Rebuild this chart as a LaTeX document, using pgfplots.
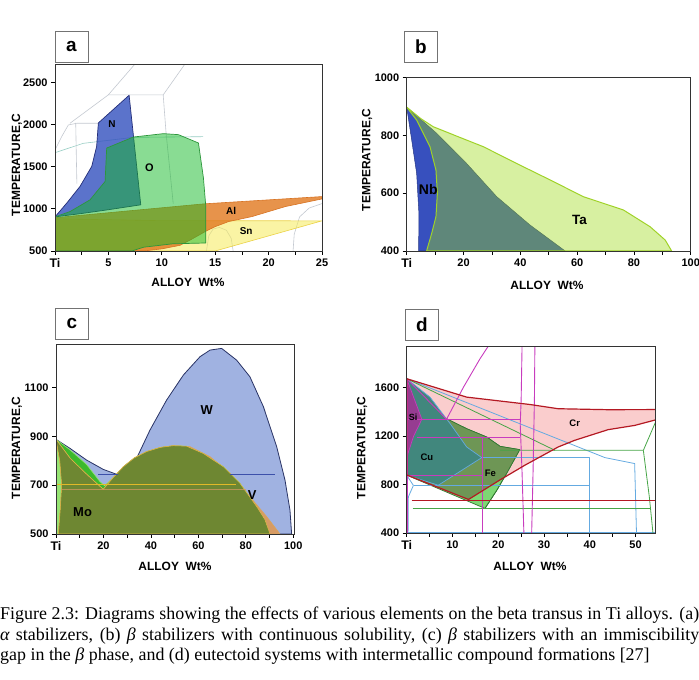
\documentclass[border=0pt]{standalone}
\usepackage{pgfplots}
\pgfplotsset{compat=1.18}
\usepackage{fontspec}
\setmainfont{Liberation Sans}
\newfontfamily\capfont{Liberation Serif}

% region colours
\definecolor{nblue}{RGB}{50,80,190}
\definecolor{nedge}{RGB}{35,45,120}
\definecolor{ogreen}{RGB}{20,185,40}
\definecolor{oedge}{RGB}{45,150,60}
\definecolor{alorange}{RGB}{225,120,30}
\definecolor{aledge}{RGB}{215,115,35}
\definecolor{snyellow}{RGB}{245,235,90}
\definecolor{snedge}{RGB}{235,210,70}
\definecolor{faint}{RGB}{195,200,208}
\definecolor{fainteal}{RGB}{150,205,195}
\definecolor{nbblue}{RGB}{55,80,190}
\definecolor{tafill}{RGB}{155,218,20}
\definecolor{taedge}{RGB}{160,210,40}
\definecolor{wfill}{RGB}{160,178,225}
\definecolor{wedge}{RGB}{40,50,100}
\definecolor{mofill}{RGB}{60,185,45}
\definecolor{mosliver}{RGB}{150,228,115}
\definecolor{vfill}{RGB}{215,155,100}
\definecolor{olive}{RGB}{110,135,50}
\definecolor{hyellow}{RGB}{225,185,40}
\definecolor{hblue}{RGB}{60,80,170}
\definecolor{crpink}{RGB}{250,205,205}
\definecolor{crred}{RGB}{180,25,35}
\definecolor{felight}{RGB}{125,215,115}
\definecolor{feolive}{RGB}{110,150,85}
\definecolor{feedge}{RGB}{50,120,50}
\definecolor{cuteal}{RGB}{65,135,125}
\definecolor{siviolet}{RGB}{150,60,145}
\definecolor{mag}{RGB}{200,60,190}
\definecolor{lblue}{RGB}{100,170,225}
\definecolor{lgreen}{RGB}{70,165,70}

\pgfplotsset{
  panel/.style={
    scale only axis, anchor=south west, axis on top,
    tick align=outside, xtick pos=bottom, ytick pos=left,
    major tick length=4bp,
    tick style={black, line width=0.8pt},
    axis line style={black!80, line width=0.9pt},
    ticklabel style={font=\bfseries\fontsize{11}{11}\selectfont},
    every axis plot/.append style={line join=round},
  },
}
\newcommand{\Ti}{{\fontsize{12.5}{12.5}\selectfont Ti}}

\begin{document}
\begin{tikzpicture}[x=1bp,y=1bp]
\path[use as bounding box] (0,0) rectangle (699,680);

% ---------------- (a) alpha stabilizers ----------------
\begin{axis}[panel, at={(55bp,429bp)}, width=267bp, height=187bp,
  xmin=0, xmax=25, ymin=500, ymax=2720,
  xtick={0,2.5,...,25}, xticklabels={\Ti,,5,,10,,15,,20,,25},
  ytick={500,1000,1500,2000,2500}, yticklabels={500,1000,1500,2000,2500}]
% background phase boundaries
\addplot[fainteal, line width=0.6pt] coordinates {(0,1667)(2.65,1778)(7.33,1849)(13.87,1857)};
\addplot[faint, line width=0.6pt] coordinates {(0,1698)(0.62,1857)(1.25,1996)(2.03,2016)(4.11,2016)};
\addplot[faint, line width=0.6pt] coordinates {(1.4,2016)(4.99,2353)(7.48,2718)};
\addplot[faint, line width=0.6pt] coordinates {(4.99,2353)(10.13,2353)(12.16,2718)};
\addplot[faint, line width=0.6pt] coordinates {(10.13,2353)(10.4,1900)(11.07,1063)};
\addplot[faint, line width=0.6pt] coordinates {(1.94,2020)(2.0,1600)(2.05,1300)};
\addplot[faint, line width=0.6pt] coordinates {(14.18,500)(14.4,680)(14.8,760)(15.4,780)(16.05,746)(16.5,650)(16.68,500)};
\addplot[faint, line width=0.6pt] coordinates {(22.29,500)(22.4,700)(22.9,905)(23.8,1010)(25,1063)};
% Sn
\addplot[draw=snedge, line width=0.6pt, fill=snyellow, fill opacity=0.55]
  coordinates {(0,500)(0,882)(10,860)(25,858)(15,500)} -- cycle;
% Al
\addplot[draw=aledge, line width=0.6pt, fill=alorange, fill opacity=0.8]
  coordinates {(0,500)(0,895)(14,1060)(25,1146)(25,1118)(21.56,1027)(18.43,908)(16.25,849)(15,789)(14.2,740)(12.8,640)(11.7,567)(10,525)(8.3,500)} -- cycle;
% N
\addplot[draw=nedge, line width=0.7pt, fill=nblue, fill opacity=0.8]
  coordinates {(0,905)(1.09,1067)(2.34,1266)(3.44,1504)(3.9,1742)(4.06,2020)(6.94,2349)(8.03,1048)(5,990)(2.5,945)} -- cycle;
% O
\addplot[draw=oedge, line width=0.7pt, fill=ogreen, fill opacity=0.5]
  coordinates {(4.84,1722)(7.34,1853)(10.16,1893)(11.56,1881)(13.43,1782)(13.9,1365)(14.12,1027)(14.12,595)(11,585)(8.3,545)(7.2,500)(0,500)(0,905)(1.41,968)(3.28,1107)(4.69,1325)} -- cycle;
\node[font=\bfseries\fontsize{10}{10}\selectfont] at (axis cs:5.34,2009) {N};
\node[font=\bfseries\fontsize{11}{11}\selectfont] at (axis cs:8.83,1494) {O};
\node[font=\bfseries\fontsize{10}{10}\selectfont] at (axis cs:16.5,979) {Al};
\node[font=\bfseries\fontsize{10}{10}\selectfont] at (axis cs:17.9,738) {Sn};
\end{axis}

% ---------------- (b) continuous solubility ----------------
\begin{axis}[panel, at={(406.7bp,429bp)}, width=284bp, height=173.3bp,
  xmin=0, xmax=100, ymin=400, ymax=1000,
  xtick={0,10,...,100}, xticklabels={\Ti,,20,,40,,60,,80,,100},
  ytick={400,600,800,1000}, yticklabels={400,600,800,1000}]
% Nb
\addplot[draw=nbblue!70!black, line width=0.5pt, fill=nbblue]
  coordinates {(0,898)(1.76,784)(3.5,669)(4.3,530)(4.2,400)(55.8,400)(43.4,490)(31.7,588)(21.1,703)(10.6,807)} -- cycle;
% Ta
\addplot[draw=taedge, line width=1pt, fill=tafill, fill opacity=0.4]
  coordinates {(0,898)(5,858)(9.4,830)(18.8,793)(27,761)(38.7,703)(50.5,646)(62.2,588)(76.3,542)(85.7,484)(91,438)(93.3,400)(7,400)(8.8,461)(10.3,519)(10.8,600)(10.3,680)(8.2,761)(3.5,853)} -- cycle;
\node[font=\bfseries\fontsize{14}{14}\selectfont] at (axis cs:7.6,614) {Nb};
\node[font=\bfseries\fontsize{13.5}{13.5}\selectfont] at (axis cs:60.8,507) {Ta};
\end{axis}

% ---------------- (c) immiscibility gap ----------------
\begin{axis}[panel, at={(56bp,146bp)}, width=238bp, height=190bp,
  xmin=0, xmax=100.3, ymin=500, ymax=1279,
  xtick={0,10,...,100}, xticklabels={\Ti,,20,,40,,60,,80,,100},
  ytick={500,700,900,1100}, yticklabels={500,700,900,1100}]
% W
\addplot[draw=wedge, line width=0.8pt, fill=wfill]
  coordinates {(0,500)(0,888)(5.9,851)(12.9,803)(19.9,765)(26.3,742)(28.5,745)(34.3,817)(39.6,926)(46.6,1049)(53.7,1152)(60.7,1227)(64.9,1254)(69.8,1261)(76.1,1213)(81.7,1145)(87.4,1022)(93,858)(96.5,721)(98.6,598)(99.3,500)} -- cycle;
% Mo
\addplot[draw=mosliver, line width=0.6pt, fill=mofill]
  coordinates {(0,500)(0,888)(5.9,845)(12.9,785)(18.5,715)(20.5,698)(24,730)(28.4,776)(33,812)(38.2,838)(44,855)(49.4,862)(55,860)(62.1,830)(70.5,776)(77.5,708)(84.6,612)(88,560)(90.2,500)} -- cycle;
\addplot[draw=none, fill=mosliver]
  coordinates {(0,500)(0,888)(1.6,800)(2.4,700)(1.8,600)(1,500)} -- cycle;
% V
\addplot[draw=vfill!90!yellow, line width=0.6pt, fill=vfill]
  coordinates {(1,500)(1.8,600)(2.4,700)(1.6,800)(0,888)(6,810)(12.9,745)(19.9,683)(24,730)(28.4,776)(33,812)(38.2,838)(44,855)(49.4,862)(56.5,858)(64.9,817)(73.3,749)(81.7,653)(88.8,571)(94.4,500)} -- cycle;
% Mo + V
\addplot[draw=vfill!70!yellow, line width=0.5pt, fill=olive]
  coordinates {(1,500)(1.8,600)(2.4,700)(1.6,800)(0,888)(6,810)(12.9,745)(19.9,683)(24,730)(28.4,776)(33,812)(38.2,838)(44,855)(49.4,862)(55,860)(62.1,830)(70.5,776)(77.5,708)(84.6,612)(88,560)(90.2,500)} -- cycle;
\addplot[hyellow, line width=0.8pt] coordinates {(0,703)(76,703)};
\addplot[vfill, line width=0.5pt, opacity=0.7] coordinates {(2,683)(80,683)};
\addplot[hblue, line width=0.8pt] coordinates {(17.8,745)(26.3,745)};
\addplot[hblue, line width=0.8pt] coordinates {(73.3,745)(92.3,745)};
\node[font=\bfseries\fontsize{13}{13}\selectfont] at (axis cs:63.5,1008) {W};
\node[font=\bfseries\fontsize{13}{13}\selectfont] at (axis cs:82.7,660) {V};
\node[font=\bfseries\fontsize{13}{13}\selectfont] at (axis cs:11.2,589) {Mo};
\end{axis}

% ---------------- (d) eutectoid systems ----------------
\begin{axis}[panel, at={(406.7bp,147bp)}, width=249bp, height=186.7bp,
  xmin=0, xmax=54.4, ymin=400, ymax=1943,
  xtick={0,5,...,50}, xticklabels={\Ti,,10,,20,,30,,40,,50},
  ytick={400,800,1200,1600}, yticklabels={400,800,1200,1600}]
% Cr
\addplot[draw=none, fill=crpink]
  coordinates {(0,1675)(13.1,1523)(26.9,1462)(33.1,1427)(44,1419)(54.4,1420)(54.4,1335)(49.8,1289)(44,1254)(36.7,1166)(33.1,1111)(25.8,960)(20,830)(13.5,677)(0,880)} -- cycle;
% Fe
\addplot[draw=feedge, line width=0.7pt, fill=felight]
  coordinates {(0,1675)(4.4,1468)(8.7,1344)(13.1,1262)(17.5,1193)(20.4,1116)(24.7,1089)(21.8,891)(19.7,754)(17.1,603)(0,878)} -- cycle;
\addplot[draw=none, fill=feolive]
  coordinates {(0,1675)(4.4,1468)(8.7,1344)(13.1,1262)(17.5,1193)(20.4,1116)(24.7,1089)(21.8,891)(21.26,856)(13.5,677)(0,880)} -- cycle;
\addplot[feedge, line width=0.7pt] coordinates {(0,1675)(4.4,1468)(8.7,1344)(13.1,1262)(17.5,1193)(20.4,1116)(24.7,1089)(21.8,891)(19.7,754)(17.1,603)};
% Cu
\addplot[draw=lblue, line width=0.7pt, fill=cuteal]
  coordinates {(0,1675)(5.1,1523)(9.5,1303)(13.1,1111)(16.4,1023)(6.9,795)(0,878)} -- cycle;
% Si
\addplot[draw=mag, line width=0.7pt, fill=siviolet]
  coordinates {(0,1675)(3.3,1340)(1.5,1200)(0.3,1060)(0,1000)} -- cycle;
% Cu system lines
\addplot[lblue, line width=0.8pt] coordinates {(0,1675)(43.3,1023)(49.8,974)(50.2,400)};
\addplot[lblue, line width=0.8pt] coordinates {(16.4,1023)(40,1023)(40,400)};
\addplot[lblue, line width=0.8pt] coordinates {(1.5,793)(40,793)};
\addplot[lblue, line width=0.8pt] coordinates {(0,878)(1.46,793)(0.36,699)(0.3,400)};
\addplot[lblue, line width=0.8pt] coordinates {(0,402)(54.4,402)};
% Fe system lines
\addplot[lgreen, line width=0.8pt] coordinates {(0,1675)(32.4,1083)};
\addplot[lgreen, line width=0.8pt] coordinates {(20.4,1083)(51.7,1083)(54.4,1320)};
\addplot[lgreen, line width=0.8pt] coordinates {(51.7,1083)(53,700)(53.8,400)};
\addplot[lgreen, line width=0.8pt] coordinates {(1.3,600)(53.1,600)};
% Si system lines
\addplot[mag, line width=0.9pt] coordinates {(0,1675)(8.7,1340)(12.4,1605)(16,1839)(17.8,1943)};
\addplot[mag, line width=0.9pt] coordinates {(0,1340)(24.8,1340)};
\addplot[mag, line width=0.9pt] coordinates {(2.2,1190)(24.8,1190)};
\addplot[mag, line width=0.9pt] coordinates {(0,878)(16.5,878)};
\addplot[mag, line width=0.9pt] coordinates {(16.5,1190)(16.5,400)};
\addplot[mag, line width=0.9pt] coordinates {(25.6,400)(25.2,900)(24.8,1300)(25.0,1500)(25.2,1943)(28.0,1943)(27.9,1500)(27.6,900)(27.3,400)};
\addplot[mag, line width=0.9pt] coordinates {(0.2,1675)(0.2,400)};
% Cr boundaries
\addplot[crred, line width=0.8pt] coordinates {(1.1,672)(54.4,672)};
\addplot[crred, line width=1.2pt] coordinates {(0,1675)(13.1,1523)(26.9,1462)(33.1,1427)(44,1419)(54.4,1420)(54.4,1335)(49.8,1289)(44,1254)(36.7,1166)(33.1,1111)(25.8,960)(20,830)(13.5,677)(0,880)(0,1675)};
\node[font=\bfseries\fontsize{9}{9}\selectfont] at (axis cs:1.4,1355) {Si};
\node[font=\bfseries\fontsize{9.5}{9.5}\selectfont] at (axis cs:4.4,1028) {Cu};
\node[font=\bfseries\fontsize{9.5}{9.5}\selectfont] at (axis cs:18.3,897) {Fe};
\node[font=\bfseries\fontsize{9.5}{9.5}\selectfont] at (axis cs:36.7,1308) {Cr};
\end{axis}

% panel letters
\tikzset{plabel/.style={draw=black!55, line width=0.8pt, fill=white, minimum width=33bp, minimum height=31bp, inner sep=0pt, font=\bfseries\fontsize{19}{19}\selectfont}}
\node[plabel] at (71.5,633.5) {a};
\node[plabel] at (421,633) {b};
\node[plabel] at (72,356.5) {c};
\node[plabel] at (422,355.5) {d};

% axis titles
\tikzset{atitle/.style={font=\bfseries\fontsize{12}{12}\selectfont, inner sep=0pt}}
\node[atitle, rotate=90] at (17,515) {TEMPERATURE,C};
\node[atitle] at (188,398) {ALLOY\ \ Wt\%};
\node[atitle, rotate=90] at (367,520) {TEMPERATURE,C};
\node[atitle] at (547,395) {ALLOY\ \ Wt\%};
\node[atitle, rotate=90] at (17,232) {TEMPERATURE,C};
\node[atitle] at (175,114) {ALLOY\ \ Wt\%};
\node[atitle, rotate=90] at (362,232) {TEMPERATURE,C};
\node[atitle] at (530,114) {ALLOY\ \ Wt\%};

% caption
\tikzset{capline/.style={anchor=base west, inner sep=0pt, font=\capfont\fontsize{18}{20}\selectfont}}
\node[capline] at (0,60) {\makebox[699bp][s]{Figure 2.3: Diagrams showing the effects of various elements on the beta transus in Ti alloys. (a)}};
\node[capline] at (0,39) {\makebox[699bp][s]{{\itshape α} stabilizers, (b) {\itshape β} stabilizers with continuous solubility, (c) {\itshape β} stabilizers with an immiscibility}};
\node[capline] at (0,19) {gap in the {\itshape β} phase, and (d) eutectoid systems with intermetallic compound formations [27]};
\end{tikzpicture}
\end{document}
